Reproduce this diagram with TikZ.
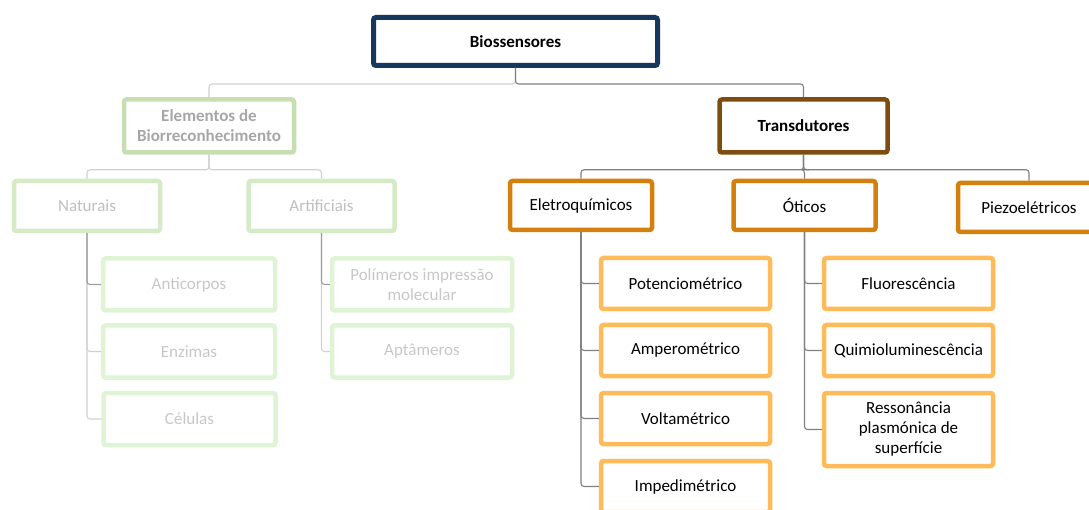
\documentclass[tikz,border=0pt]{standalone}
\usepackage{fontspec}
\setmainfont{Carlito}

\definecolor{rootc}{RGB}{23,56,94}
\definecolor{transc}{RGB}{125,76,14}
\definecolor{orangec}{RGB}{211,128,12}
\definecolor{lorangec}{RGB}{255,186,89}
\definecolor{elemc}{RGB}{198,222,178}
\definecolor{greenc}{RGB}{212,235,198}
\definecolor{lgreenc}{RGB}{222,244,212}

\tikzset{
  box/.style={draw, rounded corners=2.5pt, line width=4.5pt, align=center,
    inner sep=2pt, font=\fontsize{17}{20}\selectfont},
  rootbox/.style={box, draw=rootc, line width=5pt, minimum width=284, minimum height=48,
    font=\fontsize{17}{20}\selectfont\bfseries},
  transbox/.style={box, draw=transc, minimum width=168, minimum height=53,
    font=\fontsize{17}{20}\selectfont\bfseries},
  typebox/.style={box, draw=orangec, minimum width=142, minimum height=49},
  methbox/.style={box, draw=lorangec, minimum width=169, minimum height=51},
  elembox/.style={box, draw=elemc, text=black!35, minimum width=170, minimum height=53,
    font=\fontsize{17}{20}\selectfont\bfseries},
  groupbox/.style={box, draw=greenc, text=black!25, minimum width=146, minimum height=50},
  leafbox/.style={box, draw=lgreenc, text=black!22, minimum width=172, minimum height=52},
  link/.style={draw=black!50, line width=1.1pt, rounded corners=3pt},
  faintlink/.style={link, draw=black!18},
  softlink/.style={link, draw=black!38},
}

\begin{document}
\begin{tikzpicture}[x=1pt,y=1pt,yscale=-1]
\useasboundingbox (0,0) rectangle (1089,510);
\clip (0,0) rectangle (1089,510);

%Top levels
\node[rootbox] (bio) at (515.5,41.5) {Biossensores};
\node[elembox] (elem) at (209,126) {Elementos de\\Biorreconhecimento};
\node[transbox] (trans) at (803.5,126) {Transdutores};

%Recognition elements
\node[groupbox] (nat) at (87,206) {Naturais};
\node[groupbox] (art) at (321.5,206) {Artificiais};
\node[leafbox] (anti) at (189,284.5) {Anticorpos};
\node[leafbox] (enz) at (189,351.5) {Enzimas};
\node[leafbox] (cel) at (189.5,419) {Células};
\node[leafbox, minimum width=180] (poli) at (422,284.5) {Polímeros impressão\\molecular};
\node[leafbox, minimum width=180] (apt) at (422,351.5) {Aptâmeros};

%Transducers
\node[typebox] (elet) at (581,205.5) {Eletroquímicos};
\node[typebox] (otic) at (804.5,205.5) {Óticos};
\node[typebox] (piezo) at (1029,207.5) {Piezoelétricos};
\node[methbox] (pot) at (685.5,283.5) {Potenciométrico};
\node[methbox] (amp) at (685.5,350.5) {Amperométrico};
\node[methbox] (volt) at (685.5,418.5) {Voltamétrico};
\node[methbox] (imp) at (685.5,486.5) {Impedimétrico};
\node[methbox] (fluo) at (908.5,283.5) {Fluorescência};
\node[methbox] (quim) at (908.5,350.5) {Quimioluminescência};
\node[methbox, minimum height=73] (ress) at (908.5,429.5) {Ressonância\\plasmónica de\\superfície};

%Connectors
\draw[faintlink] (bio.south) -- ++(0,16) -| (elem.north);
\draw[link] (bio.south) -- ++(0,16) -| (trans.north);
\draw[faintlink] (elem.south) -- ++(0,15) -| (nat.north);
\draw[faintlink] (elem.south) -- ++(0,15) -| (art.north);
\draw[link] (trans.south) -- ++(0,15) -| (elet.north);
\draw[link] (trans.south) -- ++(0,15) -| (otic.north);
\draw[link] (trans.south) -- ++(0,15) -| (piezo.north);

\draw[faintlink] (nat.south) |- (cel.west);
\draw[faintlink] (nat.south) |- (enz.west);
\draw[softlink] (nat.south) |- (anti.west);
\draw[faintlink] (art.south) |- (apt.west);
\draw[softlink] (art.south) |- (poli.west);

\foreach \m in {imp,volt,amp,pot}
  \draw[link] (elet.south) |- (\m.west);
\foreach \m in {ress,quim,fluo}
  \draw[link] (otic.south) |- (\m.west);

\end{tikzpicture}
\end{document}
